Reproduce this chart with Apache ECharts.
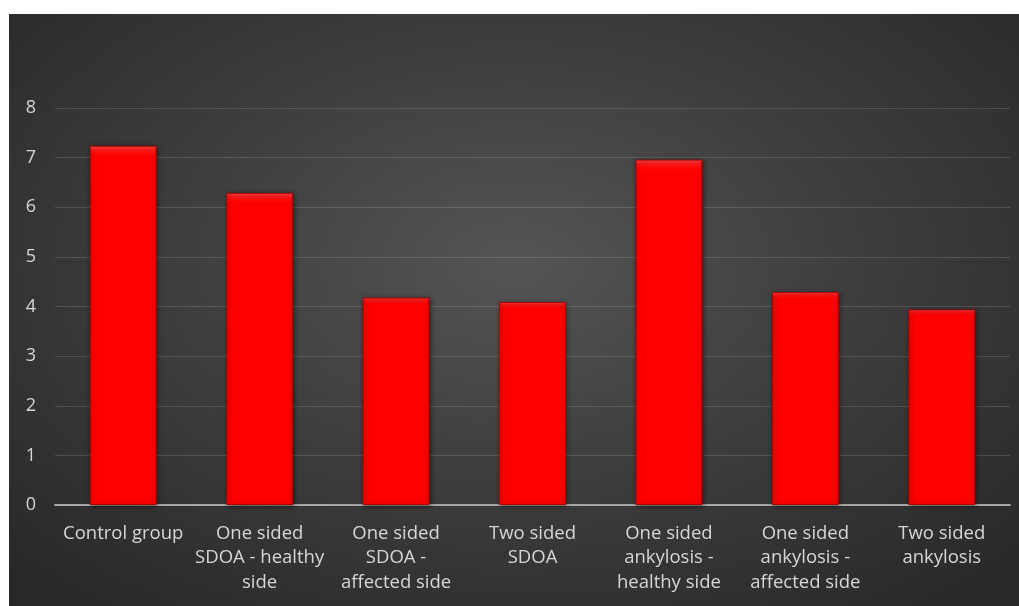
<!DOCTYPE html>
<html>
<head>
<meta charset="utf-8">
<script src="https://cdn.jsdelivr.net/npm/echarts@6/dist/echarts.min.js"></script>
<style>
  html, body { margin: 0; padding: 0; background: #ffffff; width: 1019px; height: 606px; overflow: hidden; }
  #chart {
    position: absolute; left: 9px; top: 14px; width: 1010px; height: 592px;
    background: radial-gradient(ellipse 70% 75% at 50% 42%, #555555 0%, #3f3f3f 45%, #282828 100%);
  }
</style>
</head>
<body>
<div id="chart"></div>
<script>
const categories = [
  'Control group',
  'One sided\nSDOA - healthy\nside',
  'One sided\nSDOA -\naffected side',
  'Two sided\nSDOA',
  'One sided\nankylosis -\nhealthy side',
  'One sided\nankylosis -\naffected side',
  'Two sided\nankylosis'
];
const values = [7.24, 6.29, 4.18, 4.09, 6.96, 4.29, 3.94];
const yMin = 0, yMax = 8, yStep = 1;

const chart = echarts.init(document.getElementById('chart'));
chart.setOption({
  backgroundColor: 'transparent',
  animation: false,
  grid: { left: 46, right: 9, top: 94, bottom: 101 },
  xAxis: {
    type: 'category',
    data: categories,
    axisLine: { show: true, lineStyle: { color: '#a6a6a6', width: 2 } },
    axisTick: { show: false },
    axisLabel: {
      color: '#d6d6d6', fontFamily: 'Open Sans', fontSize: 18.5, lineHeight: 24.5,
      margin: 16, interval: 0, align: 'center'
    }
  },
  yAxis: {
    type: 'value', min: yMin, max: yMax, interval: yStep,
    axisLine: { show: false }, axisTick: { show: false },
    axisLabel: { color: '#d6d6d6', fontFamily: 'Open Sans', fontSize: 18, margin: 19 },
    splitLine: { lineStyle: { color: 'rgba(255,255,255,0.14)', width: 1 } }
  },
  series: [{
    type: 'bar',
    data: values,
    barWidth: '49%',
    itemStyle: {
      color: {
        type: 'linear', x: 0, y: 0, x2: 0, y2: 1,
        colorStops: [
          { offset: 0, color: '#ff5050' },
          { offset: 0.012, color: '#ff1a1a' },
          { offset: 0.03, color: '#ff0000' },
          { offset: 1, color: '#ff0000' }
        ]
      },
      borderColor: '#b00000', borderWidth: 1,
      shadowColor: 'rgba(0,0,0,0.55)', shadowBlur: 5, shadowOffsetX: 1, shadowOffsetY: 1
    }
  }]
});
</script>
</body>
</html>
